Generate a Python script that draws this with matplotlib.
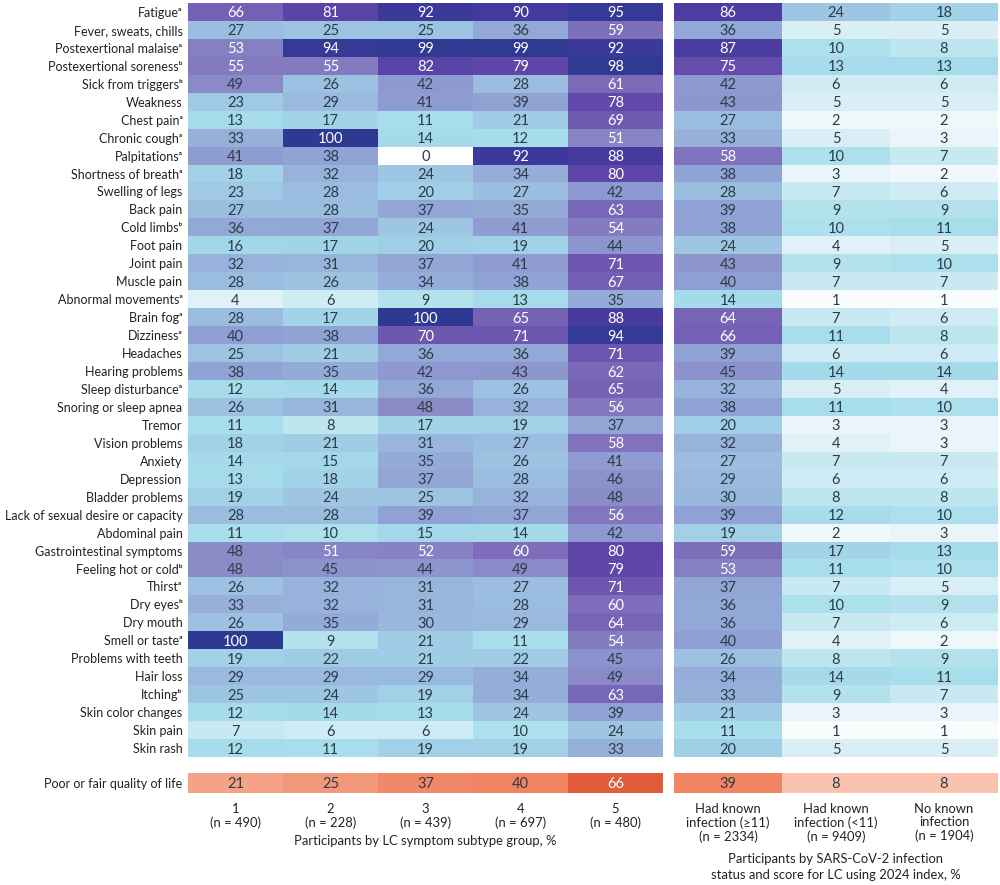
import matplotlib
matplotlib.use("Agg")
import matplotlib.pyplot as plt
import numpy as np
from matplotlib.colors import LinearSegmentedColormap

plt.rcParams['font.family'] = ['Lato', 'DejaVu Sans']

A, B = "\u1d43", "\u1d47"
symptoms = [
    "Fatigue" + A, "Fever, sweats, chills", "Postexertional malaise" + A,
    "Postexertional soreness" + B, "Sick from triggers" + B, "Weakness",
    "Chest pain" + A, "Chronic cough" + A, "Palpitations" + A,
    "Shortness of breath" + A, "Swelling of legs", "Back pain",
    "Cold limbs" + B, "Foot pain", "Joint pain", "Muscle pain",
    "Abnormal movements" + A, "Brain fog" + A, "Dizziness" + A,
    "Headaches", "Hearing problems", "Sleep disturbance" + A,
    "Snoring or sleep apnea", "Tremor", "Vision problems", "Anxiety", "Depression",
    "Bladder problems", "Lack of sexual desire or capacity", "Abdominal pain",
    "Gastrointestinal symptoms", "Feeling hot or cold" + B, "Thirst" + A,
    "Dry eyes" + B, "Dry mouth", "Smell or taste" + A,
    "Problems with teeth", "Hair loss", "Itching" + B, "Skin color changes",
    "Skin pain", "Skin rash",
]

# LC symptom subtype groups 1-5
subtype = [
    [66, 81, 92, 90, 95], [27, 25, 25, 36, 59], [53, 94, 99, 99, 92], [55, 55, 82, 79, 98],
    [49, 26, 42, 28, 61], [23, 29, 41, 39, 78], [13, 17, 11, 21, 69], [33, 100, 14, 12, 51],
    [41, 38, 0, 92, 88], [18, 32, 24, 34, 80], [23, 28, 20, 27, 42], [27, 28, 37, 35, 63],
    [36, 37, 24, 41, 54], [16, 17, 20, 19, 44], [32, 31, 37, 41, 71], [28, 26, 34, 38, 67],
    [4, 6, 9, 13, 35], [28, 17, 100, 65, 88], [40, 38, 70, 71, 94], [25, 21, 36, 36, 71],
    [38, 35, 42, 43, 62], [12, 14, 36, 26, 65], [26, 31, 48, 32, 56], [11, 8, 17, 19, 37],
    [18, 21, 31, 27, 58], [14, 15, 35, 26, 41], [13, 18, 37, 28, 46], [19, 24, 25, 32, 48],
    [28, 28, 39, 37, 56], [11, 10, 15, 14, 42], [48, 51, 52, 60, 80], [48, 45, 44, 49, 79],
    [26, 32, 31, 27, 71], [33, 32, 31, 28, 60], [26, 35, 30, 29, 64], [100, 9, 21, 11, 54],
    [19, 22, 21, 22, 45], [29, 29, 29, 34, 49], [25, 24, 19, 34, 63], [12, 14, 13, 24, 39],
    [7, 6, 6, 10, 24], [12, 11, 19, 19, 33],
]

# infection status groups
infection = [
    [86, 24, 18], [36, 5, 5], [87, 10, 8], [75, 13, 13], [42, 6, 6], [43, 5, 5],
    [27, 2, 2], [33, 5, 3], [58, 10, 7], [38, 3, 2], [28, 7, 6], [39, 9, 9],
    [38, 10, 11], [24, 4, 5], [43, 9, 10], [40, 7, 7], [14, 1, 1], [64, 7, 6],
    [66, 11, 8], [39, 6, 6], [45, 14, 14], [32, 5, 4], [38, 11, 10], [20, 3, 3],
    [32, 4, 3], [27, 7, 7], [29, 6, 6], [30, 8, 8], [39, 12, 10], [19, 2, 3],
    [59, 17, 13], [53, 11, 10], [37, 7, 5], [36, 10, 9], [36, 7, 6], [40, 4, 2],
    [26, 8, 9], [34, 14, 11], [33, 9, 7], [21, 3, 3], [11, 1, 1], [20, 5, 5],
]

qol_subtype = [21, 25, 37, 40, 66]
qol_infection = [39, 8, 8]

subtype_labels = ["1\n(n = 490)", "2\n(n = 228)", "3\n(n = 439)", "4\n(n = 697)", "5\n(n = 480)"]
infection_labels = ["Had known\ninfection (\u226511)\n(n = 2334)",
                    "Had known\ninfection (<11)\n(n = 9409)",
                    "No known\ninfection\n(n = 1904)"]

blues = LinearSegmentedColormap.from_list("lc", [
    (0.00, "#ffffff"), (0.05, "#d8eef5"), (0.10, "#aae0ec"), (0.15, "#a3d8ea"),
    (0.22, "#a0cbe5"), (0.30, "#99b8de"), (0.40, "#8f9ed3"), (0.50, "#8988c6"),
    (0.60, "#7e6dbb"), (0.70, "#6e58b0"), (0.80, "#5d46a8"), (0.88, "#493ba0"),
    (0.94, "#363a98"), (1.00, "#2e3a92"),
])
oranges = LinearSegmentedColormap.from_list("qol", [
    (0.00, "#fde4da"), (0.10, "#f9bba5"), (0.25, "#f49a7c"), (0.45, "#f07c59"),
    (0.70, "#de5834"), (1.00, "#c43e1c"),
])

dark = "#2d3b48"
fs = 10.5
lfs = 9
xfs = 9.4

fig = plt.figure(figsize=(10, 8.85), dpi=100)
top, bottom = 1 - 3 / 885, 1 - 757 / 885
axL = fig.add_axes([0.188, bottom, 0.475, top - bottom])
axR = fig.add_axes([0.674, bottom, 0.324, top - bottom])
qb, qh = 1 - 793 / 885, 20 / 885
qL = fig.add_axes([0.188, qb, 0.475, qh])
qR = fig.add_axes([0.674, qb, 0.324, qh])


def draw(ax, data, cmap, vmax, white_at):
    data = np.array(data)
    ax.imshow(data, cmap=cmap, vmin=0, vmax=vmax, aspect="auto", interpolation="nearest")
    for i in range(data.shape[0]):
        for j in range(data.shape[1]):
            v = data[i, j]
            ax.text(j, i, str(v), ha="center", va="center_baseline", fontsize=fs,
                    color="white" if v >= white_at else dark)
    ax.set_xticks([])
    ax.set_yticks([])
    for s in ax.spines.values():
        s.set_visible(False)


draw(axL, subtype, blues, 100, 50)
draw(axR, infection, blues, 100, 50)
draw(qL, [qol_subtype], oranges, 100, 60)
draw(qR, [qol_infection], oranges, 100, 60)

axL.set_yticks(range(len(symptoms)))
axL.set_yticklabels(symptoms, fontsize=lfs, color="#222222")
axL.tick_params(axis="y", length=0, pad=4)
qL.set_yticks([0])
qL.set_yticklabels(["Poor or fair quality of life"], fontsize=lfs, color="#222222")
qL.tick_params(axis="y", length=0, pad=4)
for t in axL.get_yticklabels() + qL.get_yticklabels():
    t.set_va("center_baseline")

qL.set_xticks(range(5))
qL.set_xticklabels(subtype_labels, fontsize=xfs, color="#222222", linespacing=1.15)
qL.tick_params(axis="x", length=0, pad=7)
qR.set_xticks(range(3))
qR.set_xticklabels(infection_labels, fontsize=xfs, color="#222222", linespacing=1.15)
qR.tick_params(axis="x", length=0, pad=7)

fig.text(0.4255, 1 - 841 / 885, "Participants by LC symptom subtype group, %",
         ha="center", va="center", fontsize=xfs, color="#222222")
fig.text(0.836, 1 - 867 / 885, "Participants by SARS-CoV-2 infection\nstatus and score for LC using 2024 index, %",
         ha="center", va="center", fontsize=xfs, color="#222222", linespacing=1.35)

fig.savefig("out.png", dpi=100)
